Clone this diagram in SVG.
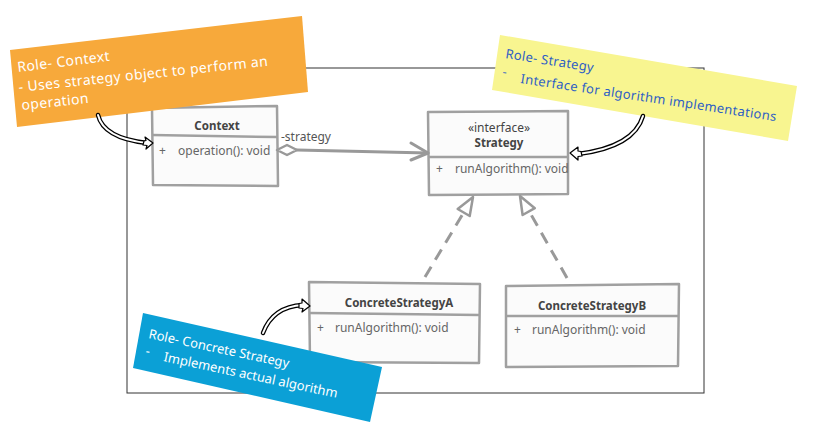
<svg xmlns="http://www.w3.org/2000/svg" width="813" height="439" viewBox="0 0 813 439">
<defs>
<style>
.frame{fill:none;stroke:#333;stroke-width:1}
.box{fill:#fbfbfb;stroke:#a0a0a0;stroke-width:2.5;stroke-linejoin:round}
.div{fill:none;stroke:#a0a0a0;stroke-width:2.5}
.ttl{font-family:"Noto Sans","Open Sans",sans-serif;font-size:11.5px;font-weight:bold;fill:#444;text-anchor:middle}
.st{font-family:"Noto Sans","Open Sans",sans-serif;font-size:12px;fill:#444;text-anchor:middle}
.op{font-family:"Noto Sans","Open Sans",sans-serif;font-size:12px;fill:#666}
.lbl{font-family:"Noto Sans","Open Sans",sans-serif;font-size:12px;fill:#555}
.conn{fill:none;stroke:#999;stroke-width:3;stroke-linecap:round;stroke-linejoin:round}
.dash{fill:none;stroke:#999;stroke-width:3;stroke-dasharray:12 8}
.head{fill:#fff;stroke:#999;stroke-width:2.5;stroke-linejoin:round}
.nt{font-family:"Noto Sans","Open Sans",sans-serif;font-size:13px}
.cA{fill:none;stroke:#000;stroke-width:4.5;stroke-linecap:round}
.cB{fill:none;stroke:#fff;stroke-width:2;stroke-linecap:round}
.ah{fill:#fff;stroke:#000;stroke-width:1.2;stroke-linejoin:round}
</style>
</defs>
<rect width="813" height="439" fill="#fff"/>
<rect class="frame" x="127" y="68" width="577" height="325"/>

<g id="context">
<path class="box" d="M152,108 L277,106 L278,186 L153,185 Z"/>
<path class="div" d="M152,135 L277,137"/>
<text class="ttl" x="217" y="130">Context</text>
<text class="op" x="159" y="155">+</text>
<text class="op" x="178" y="155">operation(): void</text>
</g>

<g id="strategy">
<path class="box" d="M428,112 L568,111 L568,194 L429,195 Z"/>
<path class="div" d="M428,157 L568,157"/>
<text class="st" x="499" y="132">«interface»</text>
<text class="ttl" x="499" y="147">Strategy</text>
<text class="op" x="436" y="173">+</text>
<text class="op" x="455" y="173">runAlgorithm(): void</text>
</g>

<g id="concreteA">
<path class="box" d="M309,282 L480,284 L479,363 L310,362 Z"/>
<path class="div" d="M309,313 L480,315"/>
<text class="ttl" x="399" y="307">ConcreteStrategyA</text>
<text class="op" x="317" y="332">+</text>
<text class="op" x="335" y="332">runAlgorithm(): void</text>
</g>

<g id="concreteB">
<path class="box" d="M506,286 L679,284 L678,366 L506,367 Z"/>
<path class="div" d="M506,316 L678,316"/>
<text class="ttl" x="592" y="310">ConcreteStrategyB</text>
<text class="op" x="514" y="334">+</text>
<text class="op" x="532" y="334">runAlgorithm(): void</text>
</g>

<g id="connectors">
<path class="conn" d="M297,150 L428,153"/>
<path class="head" d="M277,150 L287,145 L297,150 L287,155 Z"/>
<path class="conn" d="M411,143 L428,153 L411,160"/>
<text class="lbl" x="281" y="141">-strategy</text>
<path class="dash" d="M425,277 L464,212"/>
<path class="head" d="M473,197 L457.7,209 L469.7,216 Z"/>
<path class="dash" d="M567,278 L529,211"/>
<path class="head" d="M520,196 L522.6,215 L534.8,208.2 Z"/>
</g>

<g id="note-context">
<path d="M10,50 L302,16 L308,92 L17,127 Z" fill="#F7A93B"/>
<g class="nt" fill="#fff" style="font-size:14px;letter-spacing:0.4px">
<text transform="translate(18,72) rotate(-7)">Role- Context</text>
<text transform="translate(19,92) rotate(-6)">- Uses strategy object to perform an</text>
<text transform="translate(22,110) rotate(-6)">operation</text>
</g>
</g>

<g id="note-strategy">
<path d="M500,35 L797,86 L788,141 L492,90 Z" fill="#F8F590"/>
<g class="nt" fill="#2f5fc4" style="letter-spacing:0.3px">
<text transform="translate(505,58) rotate(9)">Role- Strategy</text>
<text transform="translate(502,76) rotate(8.5)">-</text>
<text transform="translate(520,83) rotate(8.5)">Interface for algorithm implementations</text>
</g>
</g>

<g id="note-concrete">
<path d="M143,313 L382,367 L370,422 L133,368 Z" fill="#0BA0D6"/>
<g class="nt" fill="#fff">
<text transform="translate(148,338) rotate(12)">Role- Concrete Strategy</text>
<text transform="translate(145,355) rotate(12)">-</text>
<text transform="translate(163,361) rotate(12)">Implements actual algorithm</text>
</g>
</g>

<g id="callouts">
<path class="cA" d="M98,115 C102,132 120,140 147,143"/>
<path class="cB" d="M98,115 C102,132 120,140 147,143"/>
<path class="ah" d="M145,137 L153,143 L146,149 L147,145.5 L143,145 L144,141 L146,140.5 Z"/>
<path class="cA" d="M643,116 C636,140 610,150 578,154"/>
<path class="cB" d="M643,116 C636,140 610,150 578,154"/>
<path class="ah" d="M578,147 L570,153 L578,160 L578,156.5 L582,156 L581,151.5 L578,151 Z"/>
<path class="cA" d="M263,333 C270,314 284,306 303,305"/>
<path class="cB" d="M263,333 C270,314 284,306 303,305"/>
<path class="ah" d="M302,299 L310,306 L302,312 L303,308.5 L299,308 L299,303.5 L302,303 Z"/>
</g>
</svg>
